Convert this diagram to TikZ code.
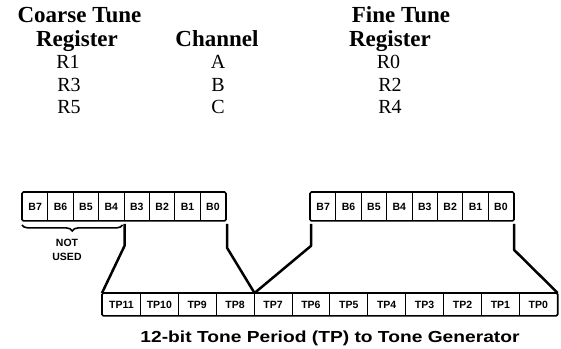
\documentclass[tikz,border=0pt]{standalone}
\usepackage{fontspec}
\setmainfont{Liberation Serif}
\setsansfont{Liberation Sans}
\usetikzlibrary{calc,decorations.pathreplacing}
\begin{document}
\begin{tikzpicture}[x=1pt,y=-1pt,
  head/.style={font=\fontsize{23}{23}\selectfont\bfseries, anchor=base, inner sep=0pt},
  reg/.style={font=\fontsize{20}{20}\selectfont, anchor=base, inner sep=0pt},
  bitcell/.style={draw, line width=0.9pt, minimum width=25.4pt, minimum height=28pt, inner sep=0pt, font=\sffamily\bfseries\fontsize{10.5}{10.5}\selectfont, anchor=north west},
  tpcell/.style={draw, line width=0.9pt, minimum width=37.9pt, minimum height=22pt, inner sep=0pt, font=\sffamily\bfseries\fontsize{10.5}{10.5}\selectfont, anchor=north west},
  outer/.style={draw, line width=1.6pt, rounded corners=1.5pt},
  conn/.style={line width=2.5pt, line join=round},
  small/.style={font=\sffamily\bfseries\fontsize{10.5}{14}\selectfont, align=center}
]
\useasboundingbox (0,0) rectangle (561,348);
% headings
\node[head] (hct) at (79.5,22) {Coarse Tune};
\node[head] (hcr) at (77,46) {Register};
\node[head] (hch) at (217,46) {Channel};
\node[head] (hft) at (401,22) {Fine Tune};
\node[head] (hfr) at (390,46) {Register};
\node[reg] (r1) at (68,68) {R1};
\node[reg] (r3) at (69,91) {R3};
\node[reg] (r5) at (69,113) {R5};
\node[reg] (ca) at (218,68) {A};
\node[reg] (cb) at (218,91) {B};
\node[reg] (cc) at (218,113) {C};
\node[reg] (r0) at (388.5,68) {R0};
\node[reg] (r2) at (390,91) {R2};
\node[reg] (r4) at (390,113) {R4};
% left register
\foreach \i/\t in {0/7,1/6,2/5,3/4,4/3,5/2,6/1,7/0}{
  \node[bitcell] (lB\t) at (22+25.4*\i,192) {B\t};
}
\draw[outer] (lB7.north west) rectangle (lB0.south east);
% right register
\foreach \i/\t in {0/7,1/6,2/5,3/4,4/3,5/2,6/1,7/0}{
  \node[bitcell] (rB\t) at (310+25.4*\i,192) {B\t};
}
\draw[outer] (rB7.north west) rectangle (rB0.south east);
% TP register
\foreach \i in {0,...,11}{
  \pgfmathtruncatemacro{\n}{11-\i}
  \node[tpcell] (tp\n) at (102+37.9*\i,293) {TP\n};
}
\draw[outer] (tp11.north west) rectangle (tp0.south east);
% caption
\node[font=\sffamily\bfseries\fontsize{16}{16}\selectfont, xscale=1.2, transform shape, anchor=base] (cap) at (330,342) {12-bit Tone Period (TP) to Tone Generator};
% brace and not used
\draw[line width=1.6pt, decoration={brace, mirror, amplitude=6pt}, decorate]
  ($(lB7.south west)+(0,4)$) -- ($(lB4.south east)+(-2,4)$);
\node[small] (nu) at (67,250) {NOT\\USED};
% connectors
\draw[conn] ($(lB4.south east)+(0,3)$) -- ($(lB4.south east)+(0,25)$) -- (tp11.north west);
\draw[conn] ($(lB0.south east)+(1,3)$) -- ($(lB0.south east)+(1,27)$) -- (tp8.north east);
\draw[conn] ($(rB7.south west)+(1,3)$) -- ($(rB7.south west)+(1,25)$) -- (tp8.north east);
\draw[conn] ($(rB0.south east)+(0,3)$) -- ($(rB0.south east)+(0,29)$) -- (tp0.north east);
\end{tikzpicture}
\end{document}
